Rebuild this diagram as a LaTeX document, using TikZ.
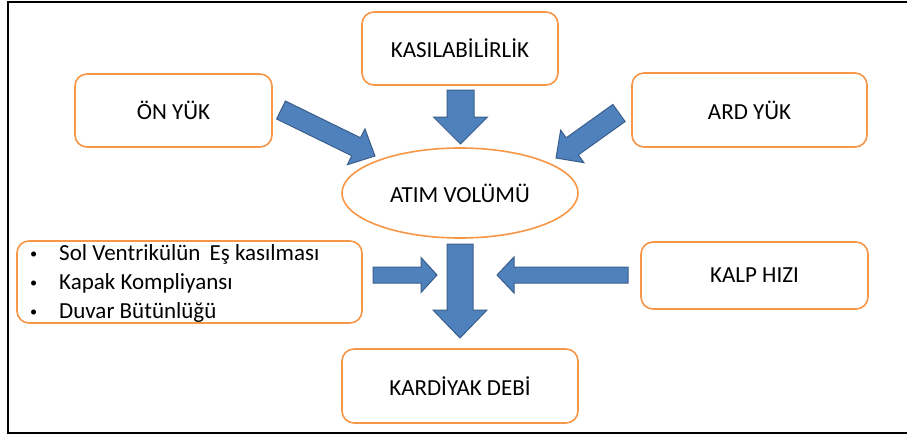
\documentclass[tikz,border=0pt]{standalone}
\usepackage{fontspec}
\setmainfont{Carlito}
\usetikzlibrary{calc,shapes.geometric}

\definecolor{boxline}{HTML}{F79646}
\definecolor{arrowfill}{HTML}{4F81BD}
\definecolor{arrowline}{HTML}{3A5F8C}

\tikzset{
  factor/.style={draw=boxline, line width=1.6pt, rounded corners=12pt,
    fill=white, inner sep=0pt, font=\fontsize{23}{29}\selectfont},
  hub/.style={draw=boxline, line width=1.6pt, ellipse, inner sep=0pt,
    fill=white, font=\fontsize{23}{29}\selectfont},
  barrow/.style={fill=arrowfill, draw=arrowline, line width=1pt, line join=miter},
  frame/.style={draw=black, line width=2pt}
}

% small list bullet
\newcommand\listbullet{\makebox[31pt][l]{\hspace{2pt}\raisebox{0.15ex}{\scalebox{0.62}{\textbullet}}}}

% block arrow from tail to tip: shaft half-width, head half-width, head length
\newcommand\blockarrow[5]{%
  \path ($(#2)!#5!(#1)$) coordinate (hb);
  \filldraw[barrow] ($(#1)!#3!90:(#2)$) -- ($(hb)!#3!-90:(#1)$)
    -- ($(hb)!#4!-90:(#1)$) -- (#2) -- ($(hb)!#4!90:(#1)$)
    -- ($(hb)!#3!90:(#1)$) -- ($(#1)!#3!-90:(#2)$) -- cycle;}

\begin{document}
\begin{tikzpicture}[x=1pt,y=-1pt]
\useasboundingbox (0,0) rectangle (907,436);

% outer frame (open on the right)
\draw[frame] (907,2) -- (8,2) -- (8,432.5) -- (907,432.5);

% factor boxes
\node[factor, minimum width=196pt, minimum height=73pt] (kasil) at (460,48.5) {KASILABİLİRLİK};
\node[factor, minimum width=197pt, minimum height=73pt] (onyuk) at (173.5,110.5) {ÖN YÜK};
\node[factor, minimum width=235pt, minimum height=74pt] (ardyuk) at (749.5,110) {ARD YÜK};
\node[hub, minimum width=236pt, minimum height=90pt] (atim) at (460,193) {ATIM VOLÜMÜ};
\node[factor, minimum width=345pt, minimum height=82pt] (liste) at (189.5,282) {};
\node[factor, minimum width=227pt, minimum height=67pt] (kalp) at (754.5,275.5) {KALP HIZI};
\node[factor, minimum width=236pt, minimum height=74pt] (debi) at (460,386) {KARDİYAK DEBİ};

% bullet list inside the left box
\node[anchor=west, inner sep=0pt, align=left, font=\fontsize{23}{29}\selectfont] (listetext) at (28,283)
  {\listbullet Sol Ventrikülün\hspace{4pt} Eş kasılması\\
   \listbullet Kapak Kompliyansı\\
   \listbullet Duvar Bütünlüğü};

% arrow end points
\coordinate (onT) at (281,110);   \coordinate (onP) at (375,156);
\coordinate (ardT) at (619,113);  \coordinate (ardP) at (556,158);
\coordinate (kasT) at (460.5,90); \coordinate (kasP) at (460.5,144);
\coordinate (atT) at (460,244);   \coordinate (atP) at (460,338);
\coordinate (liT) at (373,275);   \coordinate (liP) at (437,275);
\coordinate (kaT) at (628,275);   \coordinate (kaP) at (497,275);

% block arrows
\blockarrow{onT}{onP}{10pt}{20pt}{21pt}
\blockarrow{ardT}{ardP}{10.5pt}{20pt}{20pt}
\blockarrow{kasT}{kasP}{13.5pt}{27pt}{27pt}
\blockarrow{atT}{atP}{13pt}{27pt}{28pt}
\blockarrow{liT}{liP}{8pt}{17.5pt}{16pt}
\blockarrow{kaT}{kaP}{8pt}{18pt}{17pt}
\end{tikzpicture}
\end{document}
